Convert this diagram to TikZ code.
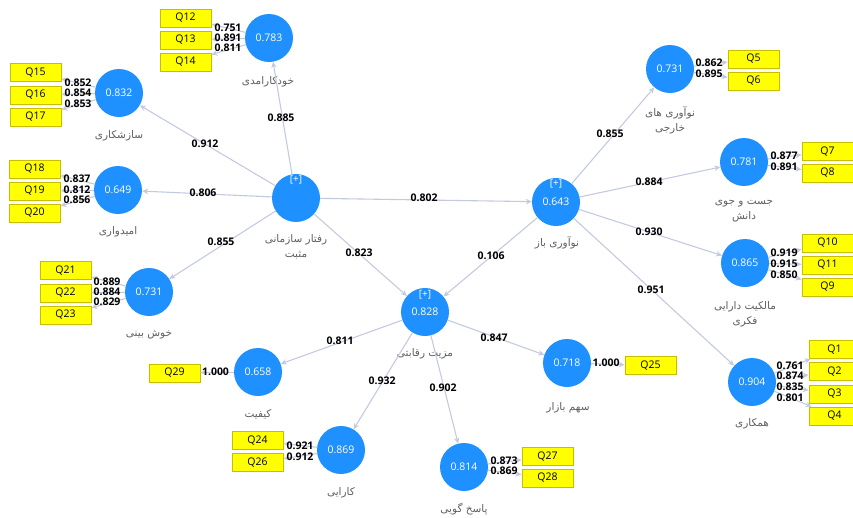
\documentclass[tikz,border=0pt]{standalone}
\usepackage{fontspec}
\setmainfont{Open Sans}
\newfontfamily\fa[Script=Arabic]{DejaVu Sans}
\TeXXeTstate=1
\usetikzlibrary{arrows.meta}
\definecolor{lvblue}{RGB}{30,144,255}
\definecolor{edgec}{RGB}{196,202,222}
\definecolor{qfill}{RGB}{255,255,0}
\definecolor{qdraw}{RGB}{200,190,0}
\definecolor{lblc}{RGB}{95,95,95}
\begin{document}
\begin{tikzpicture}[x=1pt,y=-1pt,
 lv/.style={circle,fill=lvblue,minimum size=48pt,inner sep=0pt,text=white,font=\fontsize{10.5}{12}\selectfont},
 ind/.style={rectangle,fill=qfill,draw=qdraw,line width=0.8pt,minimum width=51pt,minimum height=18pt,inner sep=0pt,font=\fontsize{10.5}{12}\selectfont},
 arr/.style={draw=edgec,line width=1.1pt,-{Stealth[length=6pt,width=5.5pt]}},
 coef/.style={font=\bfseries\fontsize{10.5}{12}\selectfont,inner sep=0pt},
 nm/.style={font=\fa\fontsize{10.5}{15}\selectfont,text=lblc,align=center,inner sep=0pt},
 plus/.style={font=\fontsize{10}{10}\selectfont,text=white,inner sep=0pt}]
\useasboundingbox (0,0) rectangle (853,517);
\clip (0,0) rectangle (853,517);
% latent variables
\node[lv] (c12) at (269,38) {0.783};
\node[lv] (c15) at (119,93) {0.832};
\node[lv] (c18) at (118,190) {0.649};
\node[lv] (c21) at (149,292) {0.731};
\node[lv] (pob) at (296,198) {};
\node[lv] (oi) at (556,202) {0.643};
\node[lv] (ext) at (670,69) {0.731};
\node[lv] (ks) at (744,162) {0.781};
\node[lv] (ip) at (745,263) {0.865};
\node[lv] (co) at (752,382) {0.904};
\node[lv] (ca) at (425,312) {0.828};
\node[lv] (qu) at (258,372) {0.658};
\node[lv] (ms) at (567,363) {0.718};
\node[lv] (ef) at (341,450) {0.869};
\node[lv] (re) at (464,467) {0.814};
\node[plus] (pobp) at (296,180) {[+]};
\node[plus] (oip) at (556,184) {[+]};
\node[plus] (cap) at (425,295) {[+]};
% names
\node[nm] (n12) at (268,82) {\beginR خودکارامدی\endR};
\node[nm] (n15) at (119,136) {\beginR سازشکاری\endR};
\node[nm] (n18) at (118,232) {\beginR امیدواری\endR};
\node[nm] (n21) at (149,335) {\beginR خوش بینی\endR};
\node[nm] (npob) at (296,247) {\beginR رفتار سازمانی\endR\\\beginR مثبت\endR};
\node[nm] (noi) at (557,243) {\beginR نوآوری باز\endR};
\node[nm] (next) at (670,120) {\beginR نوآوری های\endR\\\beginR خارجی\endR};
\node[nm] (nks) at (744,211) {\beginR جست و جوی\endR\\\beginR دانش\endR};
\node[nm] (nip) at (745,314) {\beginR مالکیت دارایی\endR\\\beginR فکری\endR};
\node[nm] (nco) at (752,424) {\beginR همکاری\endR};
\node[nm] (nca) at (425,354) {\beginR مزیت رقابتی\endR};
\node[nm] (nqu) at (258,414) {\beginR کیفیت\endR};
\node[nm] (nms) at (568,408) {\beginR سهم بازار\endR};
\node[nm] (nef) at (341,493) {\beginR کارایی\endR};
\node[nm] (nre) at (464,509) {\beginR پاسخ گویی\endR};
% indicators
\node[ind] (q12) at (185.5,18) {Q12};
\node[ind] (q13) at (185.5,40) {Q13};
\node[ind] (q14) at (185.5,62) {Q14};
\node[ind] (q15) at (35.5,72.5) {Q15};
\node[ind] (q16) at (35.5,95) {Q16};
\node[ind] (q17) at (35.5,117) {Q17};
\node[ind] (q18) at (34.5,169) {Q18};
\node[ind] (q19) at (34.5,191) {Q19};
\node[ind] (q20) at (34.5,213) {Q20};
\node[ind] (q21) at (65.5,270.5) {Q21};
\node[ind] (q22) at (65.5,293) {Q22};
\node[ind] (q23) at (65.5,315) {Q23};
\node[ind] (q5) at (753.5,59) {Q5};
\node[ind] (q6) at (753.5,81) {Q6};
\node[ind] (q7) at (827.5,151.5) {Q7};
\node[ind] (q8) at (827.5,173) {Q8};
\node[ind] (q10) at (827.5,243) {Q10};
\node[ind] (q11) at (827.5,265) {Q11};
\node[ind] (q9) at (827.5,287) {Q9};
\node[ind] (q1) at (834.5,349.5) {Q1};
\node[ind] (q2) at (834.5,371.5) {Q2};
\node[ind] (q3) at (834.5,394) {Q3};
\node[ind] (q4) at (834.5,416) {Q4};
\node[ind] (q29) at (174.5,373) {Q29};
\node[ind] (q24) at (257.5,440.5) {Q24};
\node[ind] (q26) at (257.5,462.5) {Q26};
\node[ind] (q27) at (547.5,456.5) {Q27};
\node[ind] (q28) at (547.5,478) {Q28};
\node[ind] (q25) at (650.5,365.5) {Q25};
% structural paths
\draw[arr] (pob) -- (c12);
\draw[arr] (pob) -- (c15);
\draw[arr] (pob) -- (c18);
\draw[arr] (pob) -- (c21);
\draw[arr] (pob) -- (oi);
\draw[arr] (pob) -- (ca);
\draw[arr] (oi) -- (ca);
\draw[arr] (oi) -- (ext);
\draw[arr] (oi) -- (ks);
\draw[arr] (oi) -- (ip);
\draw[arr] (oi) -- (co);
\draw[arr] (ca) -- (qu);
\draw[arr] (ca) -- (ms);
\draw[arr] (ca) -- (ef);
\draw[arr] (ca) -- (re);
% measurement paths
\foreach \a/\b in {c12/q12,c12/q13,c12/q14,c15/q15,c15/q16,c15/q17,c18/q18,c18/q19,c18/q20,c21/q21,c21/q22,c21/q23,ext/q5,ext/q6,ks/q7,ks/q8,ip/q10,ip/q11,ip/q9,co/q1,co/q2,co/q3,co/q4,qu/q29,ef/q24,ef/q26,re/q27,re/q28,ms/q25}
  \draw[arr] (\a) -- (\b);
% path coefficients
\node[coef] (p1) at (281,118) {0.885};
\node[coef] (p2) at (205,144) {0.912};
\node[coef] (p3) at (203,193) {0.806};
\node[coef] (p4) at (221,242) {0.855};
\node[coef] (p5) at (424,198) {0.802};
\node[coef] (p6) at (359,253) {0.823};
\node[coef] (p7) at (491,256) {0.106};
\node[coef] (p8) at (610,134) {0.855};
\node[coef] (p9) at (649,182) {0.884};
\node[coef] (p10) at (649,232) {0.930};
\node[coef] (p11) at (651,290) {0.951};
\node[coef] (p12) at (340,341) {0.811};
\node[coef] (p13) at (494,338) {0.847};
\node[coef] (p14) at (382,381) {0.932};
\node[coef] (p15) at (443,388) {0.902};
% loadings
\node[coef] (l12) at (228,28) {0.751};
\node[coef] (l13) at (228,38) {0.891};
\node[coef] (l14) at (228,48) {0.811};
\node[coef] (l15) at (78,83) {0.852};
\node[coef] (l16) at (78,93) {0.854};
\node[coef] (l17) at (78,104) {0.853};
\node[coef] (l18) at (77,179) {0.837};
\node[coef] (l19) at (77,190) {0.812};
\node[coef] (l20) at (77,200) {0.856};
\node[coef] (l21) at (107,282) {0.889};
\node[coef] (l22) at (107,292) {0.884};
\node[coef] (l23) at (107,302) {0.829};
\node[coef] (l5) at (709,63) {0.862};
\node[coef] (l6) at (709,74) {0.895};
\node[coef] (l7) at (784,156) {0.877};
\node[coef] (l8) at (784,167) {0.891};
\node[coef] (l10) at (784,253) {0.919};
\node[coef] (l11) at (784,264) {0.915};
\node[coef] (l9) at (784,275) {0.850};
\node[coef] (l1) at (790,366) {0.761};
\node[coef] (l2) at (790,376) {0.874};
\node[coef] (l3) at (790,387) {0.835};
\node[coef] (l4) at (790,398) {0.801};
\node[coef] (l29) at (215.5,372) {1.000};
\node[coef] (l24) at (300,446) {0.921};
\node[coef] (l26) at (300,457) {0.912};
\node[coef] (l27) at (504,461) {0.873};
\node[coef] (l28) at (504,471) {0.869};
\node[coef] (l25) at (606,363) {1.000};
\end{tikzpicture}
\end{document}
